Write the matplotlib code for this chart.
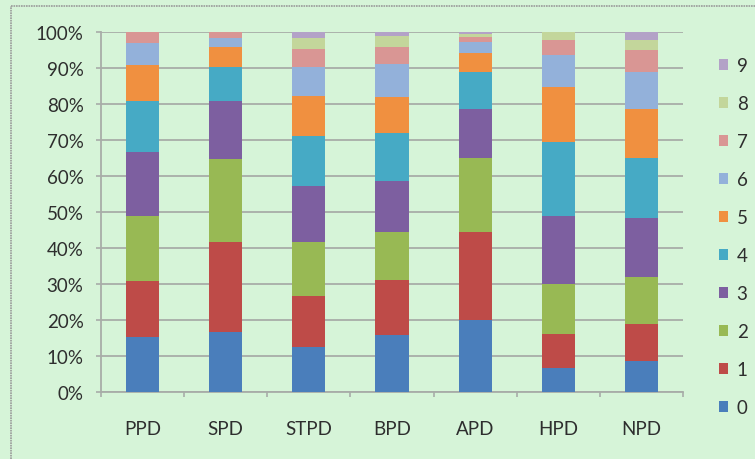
import matplotlib
matplotlib.use("Agg")
import matplotlib.pyplot as plt
from matplotlib.lines import Line2D
from matplotlib.patches import Patch
import numpy as np

categories = ["PPD", "SPD", "STPD", "BPD", "APD", "HPD", "NPD"]
series_names = ["0", "1", "2", "3", "4", "5", "6", "7", "8", "9"]
s0 = [15.3, 16.6, 12.6, 15.8, 20.0, 6.6, 8.5]
s1 = [15.5, 25.0, 14.1, 15.3, 24.4, 9.4, 10.3]
s2 = [18.2, 23.1, 14.9, 13.3, 20.5, 13.9, 13.2]
s3 = [17.8, 16.2, 15.5, 14.1, 13.6, 19.1, 16.2]
s4 = [14.0, 9.4, 14.1, 13.4, 10.4, 20.5, 16.7]
s5 = [10.0, 5.6, 11.0, 10.0, 5.3, 15.2, 13.6]
s6 = [6.2, 2.5, 8.0, 9.0, 3.0, 8.9, 10.4]
s7 = [3.0, 1.6, 5.2, 4.9, 1.4, 4.3, 6.0]
s8 = [0.0, 0.0, 2.8, 2.9, 0.8, 2.1, 3.0]
s9 = [0.0, 0.0, 1.8, 1.2, 0.6, 0.0, 2.1]
series = [s0, s1, s2, s3, s4, s5, s6, s7, s8, s9]
colors = ["#4A7EBB", "#BE4B48", "#98B954", "#7D5FA0", "#46AAC5",
          "#F09040", "#93B1DA", "#D99694", "#C3D69B", "#B3A2C7"]

bg = "#d6f4d8"
plt.rcParams['font.family'] = ['Lato', 'DejaVu Sans']

fig = plt.figure(figsize=(7.55, 4.6), dpi=100, facecolor=bg)
ax = fig.add_axes([101/755, 67/460, 582/755, 360/460])
ax.set_facecolor(bg)

data = np.array(series, dtype=float)
totals = data.sum(axis=0)
pct = data / totals * 100
x = np.arange(len(categories))
bottom = np.zeros(len(categories))
handles = []
for name, vals, c in zip(series_names, pct, colors):
    ax.bar(x, vals, bottom=bottom, width=0.4, color=c, edgecolor='none', zorder=3)
    bottom += vals
    handles.append(Patch(facecolor=c, edgecolor='none', label=name))

ax.set_xlim(-0.5, len(categories) - 0.5)
ax.set_ylim(0, 100)
ax.set_yticks(np.arange(0, 101, 10))
ax.set_yticklabels([f"{v}%" for v in range(0, 101, 10)])
ax.yaxis.grid(True, color="#a8aca8", linewidth=1.3, zorder=0)
ax.set_axisbelow(True)
ax.set_xticks(x)
ax.set_xticklabels(categories)
ax.tick_params(axis='x', length=0, pad=20, labelsize=13.5, labelcolor="#2e2e2e")
ax.tick_params(axis='y', length=3.6, width=1.2, color="#a8aca8", pad=9, labelsize=13.5, labelcolor="#2e2e2e")
ax.set_xticks(np.arange(-0.5, len(categories), 1), minor=True)
ax.tick_params(axis='x', which='minor', length=3.6, width=1.2, color="#a8aca8")
for side in ['top', 'right']:
    ax.spines[side].set_visible(False)
for side in ['left', 'bottom']:
    ax.spines[side].set_color("#a8aca8")
    ax.spines[side].set_linewidth(1.3)

leg = fig.legend(handles=handles[::-1], loc='upper left',
                 bbox_to_anchor=(702/755, 1 - 41/460), frameon=False,
                 fontsize=13.5, handlelength=0.5, handleheight=0.5,
                 handletextpad=0.45, labelspacing=1.12, labelcolor="#2e2e2e")

fig.add_artist(Line2D([11/755, 1.0], [1 - 7/460, 1 - 7/460], color="#9a9a9a",
                      linewidth=1.2, linestyle=(0, (1, 0.5)), transform=fig.transFigure))
fig.add_artist(Line2D([11/755, 11/755], [0.0, 1 - 7/460], color="#9a9a9a",
                      linewidth=1.2, linestyle=(0, (1, 0.5)), transform=fig.transFigure))

fig.savefig("out.png", dpi=100, facecolor=bg)
